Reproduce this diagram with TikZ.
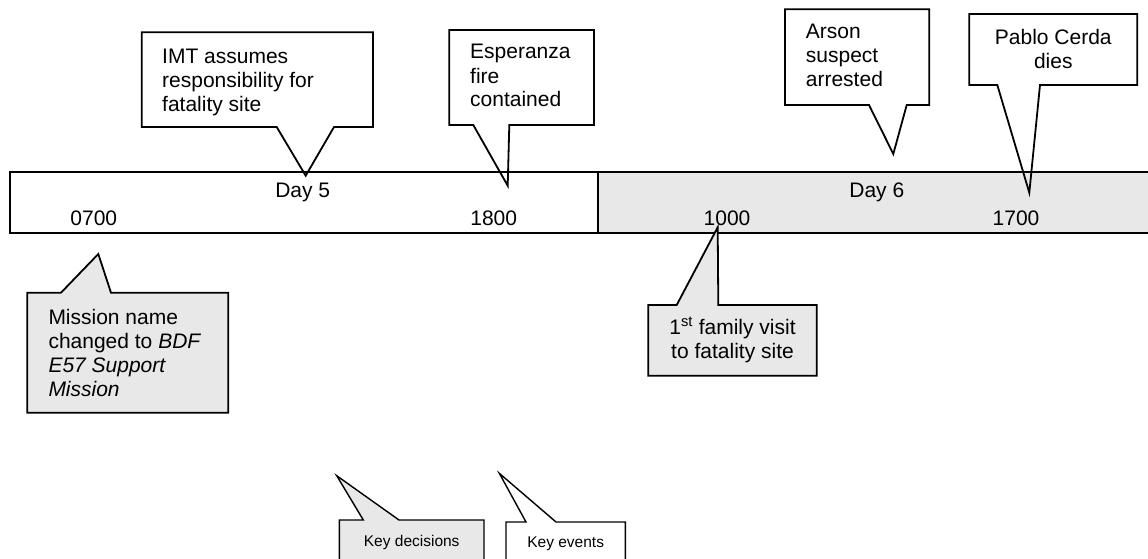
\documentclass[tikz,border=0pt]{standalone}
\usepackage{fontspec}
\setmainfont{Liberation Sans}
\definecolor{panel}{HTML}{E8E8E8}
\begin{document}
\begin{tikzpicture}[x=1pt,y=-1pt,line join=miter,
  outline/.style={draw=black,line width=1.8pt},
  thin outline/.style={draw=black,line width=1.4pt},
  txt/.style={font=\fontsize{21}{24}\selectfont,inner sep=0pt},
  small/.style={font=\fontsize{15.5}{18}\selectfont,inner sep=0pt}]
\useasboundingbox (0,0) rectangle (1148,559);
\clip (0,0) rectangle (1148,559);

% timeline bar: day 5 (white) and day 6 (grey)
\draw[outline,fill=white] (10,172) rectangle (598,233);
\draw[outline,fill=panel] (598,172) rectangle (1165,233);
\node[txt,anchor=base] (day5) at (302.7,197) {Day 5};
\node[txt,anchor=base] (day6) at (876.8,197) {Day 6};
\node[txt,anchor=base] (t0700) at (93.8,225.5) {0700};
\node[txt,anchor=base] (t1800) at (493.7,225.5) {1800};
\node[txt,anchor=base] (t1000) at (727,225.5) {1000};
\node[txt,anchor=base] (t1700) at (1016,225.5) {1700};

% pointer tips of the callouts
\coordinate (imtTip) at (305.7,175.7);
\coordinate (espTip) at (507.7,185.7);
\coordinate (arsTip) at (893.3,154);
\coordinate (pabTip) at (1029.3,192.7);
\coordinate (misTip) at (98.3,254);
\coordinate (famTip) at (717.7,227.3);
\coordinate (kdTip) at (336.7,475.7);
\coordinate (keTip) at (499.3,473.3);

% event callouts above the bar (multi-line nodes sit on their last baseline)
\draw[outline] (141.7,32.3) -- (373,32.3) -- (373,127) -- (334,127) -- (imtTip)
  -- (276.7,127) -- (141.7,127) -- cycle;
\node[txt,anchor=base west,align=left] (imt) at (162,111.5)
  {IMT assumes\\responsibility for\\fatality site};

\draw[outline] (449.3,30) -- (594,30) -- (594,125) -- (509.3,125) -- (espTip)
  -- (473.3,125) -- (449.3,125) -- cycle;
\node[txt,anchor=base west,align=left] (esp) at (470,107)
  {Esperanza\\fire\\contained};

\draw[outline] (785,9.3) -- (929.3,9.3) -- (929.3,105) -- (906.7,105) -- (arsTip)
  -- (869,105) -- (785,105) -- cycle;
\node[txt,anchor=base west,align=left] (ars) at (805.7,87)
  {Arson\\suspect\\arrested};

\draw[outline] (969.3,14) -- (1137.3,14) -- (1137.3,85) -- (1040,85) -- (pabTip)
  -- (997.3,85) -- (969.3,85) -- cycle;
\node[txt,anchor=base,align=center] (pab) at (1053.3,68.5)
  {Pablo Cerda\\dies};

% decision callouts below the bar
\draw[outline,fill=panel] (27.3,292.7) -- (61,292.7) -- (misTip) -- (111,292.7)
  -- (228.3,292.7) -- (228.3,412.7) -- (27.3,412.7) -- cycle;
\node[txt,anchor=base west,align=left] (mis) at (48.3,396.5)
  {Mission name\\changed to \textit{BDF}\\\textit{E57 Support}\\\textit{Mission}};

\draw[outline,fill=panel] (648.3,305) -- (676.7,305) -- (famTip) -- (718.3,305)
  -- (816.7,305) -- (816.7,375.7) -- (648.3,375.7) -- cycle;
\node[txt,anchor=base,align=center] (fam) at (732.5,358.5)
  {1\textsuperscript{st} family visit\\to fatality site};

% legend
\draw[thin outline,fill=panel] (339.3,520) -- (363.3,520) -- (kdTip) -- (399,520)
  -- (484,520) -- (484,575) -- (339.3,575) -- cycle;
\node[small,anchor=base] (kd) at (411.7,546) {Key decisions};

\draw[thin outline] (506,522) -- (526,522) -- (keTip) -- (556,522)
  -- (625.3,522) -- (625.3,575) -- (506,575) -- cycle;
\node[small,anchor=base] (ke) at (565.7,547.7) {Key events};
\end{tikzpicture}
\end{document}
